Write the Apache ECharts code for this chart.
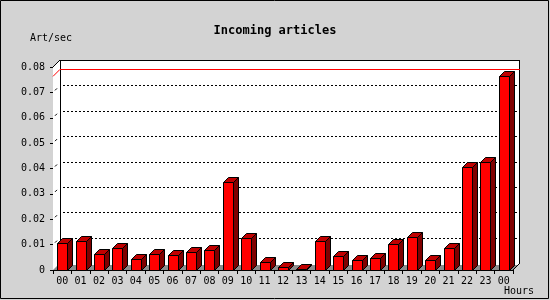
<!DOCTYPE html>
<html>
<head>
<meta charset="utf-8">
<script src="https://cdn.jsdelivr.net/npm/echarts@6/dist/echarts.min.js"></script>
<style>
html,body{margin:0;padding:0;background:#d3d3d3;}
#c{width:550px;height:300px;}
</style>
</head>
<body>
<div id="c"></div>
<script>
const hours = ['00','01','02','03','04','05','06','07','08','09','10','11','12','13','14','15','16','17','18','19','20','21','22','23','00'];
const artPerSec = [0.0108,0.0114,0.0065,0.0085,0.0042,0.0065,0.0061,0.0069,0.0078,0.0348,0.0128,0.0030,0.0013,0.0002,0.0114,0.0055,0.0039,0.0046,0.0101,0.0132,0.0039,0.0085,0.0405,0.0425,0.0763];
const yTicks = [0,0.01,0.02,0.03,0.04,0.05,0.06,0.07,0.08];

const Y_MAX = 0.08;
const WALL_D = 7;
const BAR_D = 5;
const FONT = 'DejaVu Sans Mono';
const peak = Math.max.apply(null, artPerSec);

const chart = echarts.init(document.getElementById('c'), null, {renderer:'canvas'});

function frameItem(params, api){
  const n = hours.length;
  const slot = api.size([1,0])[0];
  const c0 = api.coord([0,0]);
  const cN = api.coord([n-1,0]);
  const x0 = c0[0]-slot/2, x1 = cN[0]+slot/2;
  const yb = c0[1];
  const yt = api.coord([0,Y_MAX])[1];
  const d = WALL_D;
  const kids = [];
  // white plot body (front-left axis, diagonal, back top, back right, diagonal, front bottom)
  kids.push({type:'polygon', shape:{points:[[x0,yb],[x0,yt],[x0+d,yt-d],[x1+d,yt-d],[x1+d,yb-d],[x1,yb]]},
    style:{fill:'#ffffff', stroke:null}});
  // floor gray
  kids.push({type:'polygon', shape:{points:[[x0,yb],[x1,yb],[x1+BAR_D,yb-BAR_D],[x0+BAR_D,yb-BAR_D]]},
    style:{fill:'#8c8c8c', stroke:null}});
  // grid lines on back wall
  for (let k=1;k<yTicks.length-1;k++){
    const y = Math.round(api.coord([0,yTicks[k]])[1]-d)+0.5;
    kids.push({type:'line', shape:{x1:x0+d+3, y1:y, x2:x1+d, y2:y},
      style:{stroke:'#000', lineWidth:1, lineDash:[2,2]}});
    const yf = api.coord([0,yTicks[k]])[1];
    kids.push({type:'line', shape:{x1:x0+2, y1:yf-2, x2:x0+4, y2:yf-4},
      style:{stroke:'#000', lineWidth:1}});
  }
  // outline lines
  const L = (a,b,c,e)=>({type:'line', shape:{x1:a,y1:b,x2:c,y2:e}, style:{stroke:'#000', lineWidth:1}});
  kids.push(L(x0+d+0.5, yt-d, x0+d+0.5, yb-d));
  kids.push(L(x0, yt, x0+d, yt-d));
  kids.push(L(x0+d, yt-d+0.5, x1+d, yt-d+0.5));
  kids.push(L(x1+d-0.5, yt-d, x1+d-0.5, yb-d));
  kids.push(L(x1, yb, x1+d, yb-d));
  // red peak line
  const yp = api.coord([0,peak])[1];
  kids.push({type:'line', shape:{x1:x0, y1:yp, x2:x0+d, y2:yp-d}, style:{stroke:'#ff0000', lineWidth:1}});
  kids.push({type:'line', shape:{x1:x0+d, y1:Math.round(yp-d)+0.5, x2:x1+d, y2:Math.round(yp-d)+0.5}, style:{stroke:'#ff0000', lineWidth:1}});
  return {type:'group', children:kids};
}

function barItem(params, api){
  const i = api.value(0), v = api.value(1);
  const p0 = api.coord([i,0]), p1 = api.coord([i,v]);
  const slot = api.size([1,0])[0];
  const w = Math.round(slot*0.55);
  const xl = Math.round(p0[0]-w/2)+0.5, xr = xl + w;
  const yb = Math.round(p0[1])+0.5, yt = Math.round(p1[1])+0.5;
  const d = BAR_D;
  return {type:'group', children:[
    {type:'polygon', shape:{points:[[xr,yt],[xr+d,yt-d],[xr+d,yb-d],[xr,yb]]}, style:{fill:'#800000', stroke:'#000', lineWidth:1}},
    {type:'polygon', shape:{points:[[xl,yt],[xl+d,yt-d],[xr+d,yt-d],[xr,yt]]}, style:{fill:'#c00000', stroke:'#000', lineWidth:1}},
    {type:'rect', shape:{x:xl,y:yt,width:w,height:yb-yt}, style:{fill:'#ff0000', stroke:'#000', lineWidth:1}}
  ]};
}

chart.setOption({
  animation:false,
  backgroundColor:'#d3d3d3',
  title:{text:'Incoming articles', left:'center', top:20,
    textStyle:{fontFamily:FONT, fontSize:12, fontWeight:'bold', color:'#000'}},
  grid:{left:53, right:37, top:67, bottom:30},
  xAxis:{type:'category', data:hours, boundaryGap:true,
    axisLine:{lineStyle:{color:'#000', width:1}},
    axisTick:{show:true, length:4, alignWithLabel:false, lineStyle:{color:'#000'}},
    axisLabel:{fontFamily:FONT, fontSize:10, color:'#000', margin:6, interval:0},
    splitLine:{show:false}},
  yAxis:{type:'value', min:0, max:Y_MAX, interval:0.01,
    axisLine:{show:true, lineStyle:{color:'#000', width:1}},
    axisTick:{show:true, length:3, lineStyle:{color:'#000'}},
    axisLabel:{fontFamily:FONT, fontSize:10, color:'#000', margin:8,
      formatter:v=>{const t=yTicks.find(x=>Math.abs(x-v)<1e-9); return t===0?'0':String(+(t!==undefined?t:v).toFixed(2));}},
    splitLine:{show:false}},
  graphic:[
    {type:'rect', z:-10, silent:true, shape:{x:0.5,y:0.5,width:548,height:298}, style:{fill:'#d3d3d3', stroke:'#000', lineWidth:1}},
    {type:'text', left:30, top:33, style:{text:'Art/sec', fontFamily:FONT, fontSize:10, fill:'#000'}},
    {type:'text', left:504, top:286, style:{text:'Hours', fontFamily:FONT, fontSize:10, fill:'#000'}}
  ],
  series:[
    {type:'custom', z:1, renderItem:frameItem, data:[[0,0]], silent:true},
    {type:'custom', z:3, renderItem:barItem, data:artPerSec.map((v,i)=>[i,v]), silent:true}
  ]
});
</script>
</body>
</html>
